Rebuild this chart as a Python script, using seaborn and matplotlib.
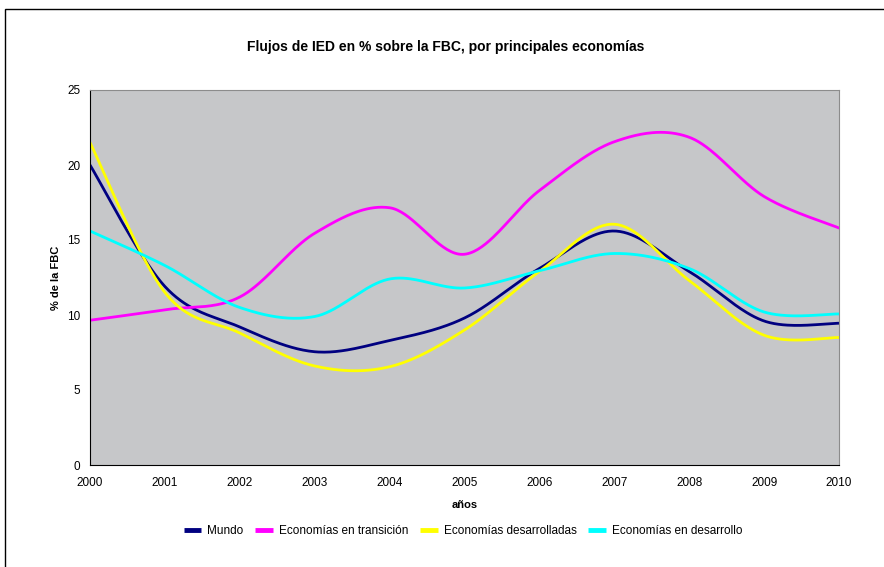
import numpy as np
import pandas as pd
import matplotlib
matplotlib.use("Agg")
import matplotlib.pyplot as plt
import seaborn as sns
from matplotlib.patches import Rectangle

# Datos
anios = [2000, 2001, 2002, 2003, 2004, 2005, 2006, 2007, 2008, 2009, 2010]
mundo = [20.0, 11.9, 9.2, 7.55, 8.3, 9.8, 13.1, 15.6, 12.9, 9.6, 9.45]
transicion = [9.65, 10.35, 11.2, 15.45, 17.15, 14.05, 18.3, 21.55, 21.85, 17.9, 15.8]
desarrolladas = [21.5, 11.5, 8.8, 6.6, 6.55, 9.0, 12.9, 16.05, 12.3, 8.65, 8.5]
desarrollo = [15.6, 13.3, 10.5, 9.9, 12.4, 11.8, 12.95, 14.1, 13.1, 10.2, 10.07]

series = ["Mundo", "Economías en transición", "Economías desarrolladas", "Economías en desarrollo"]
valores = [mundo, transicion, desarrolladas, desarrollo]
colores = ["#000080", "#ff00ff", "#ffff00", "#00ffff"]


def suavizar(x, y, n=40):
    # curva suavizada tipo Excel (Bezier con tangentes Catmull-Rom)
    x = np.asarray(x, float)
    y = np.asarray(y, float)
    xs, ys = [], []
    for i in range(len(x) - 1):
        p0 = np.array([x[i], y[i]])
        p3 = np.array([x[i + 1], y[i + 1]])
        pa = np.array([x[i - 1], y[i - 1]]) if i > 0 else p0
        pb = np.array([x[i + 2], y[i + 2]]) if i + 2 < len(x) else p3
        p1 = p0 + (p3 - pa) / 6
        p2 = p3 - (pb - p0) / 6
        t = np.linspace(0, 1, n)[:, None]
        c = (1 - t) ** 3 * p0 + 3 * (1 - t) ** 2 * t * p1 + 3 * (1 - t) * t ** 2 * p2 + t ** 3 * p3
        xs.extend(c[:, 0])
        ys.extend(c[:, 1])
    return np.array(xs), np.array(ys)


frames = []
for nombre, vals in zip(series, valores):
    sx, sy = suavizar(anios, vals)
    frames.append(pd.DataFrame({"x": sx, "y": sy, "serie": nombre}))
df = pd.concat(frames, ignore_index=True)

sns.set_style("white")
plt.rcParams["font.family"] = ["Liberation Sans", "DejaVu Sans"]
plt.rcParams["text.color"] = "black"
plt.rcParams["axes.labelcolor"] = "black"

fig = plt.figure(figsize=(8.84, 5.67), dpi=100)
ax = fig.add_axes([90 / 884, 1 - 465 / 567, (839 - 90) / 884, (465 - 90) / 567])
ax.set_facecolor("#c6c7c9")

sns.lineplot(data=df, x="x", y="y", hue="serie", palette=colores, sort=False,
             estimator=None, units="serie", linewidth=2.0, ax=ax, legend=False)

ax.set_xlim(2000, 2010)
ax.set_ylim(0, 25)
ax.set_xticks(anios)
ax.set_yticks([0, 5, 10, 15, 20, 25])
ax.tick_params(axis="x", direction="inout", length=7, width=0.8, labelsize=8.5, pad=5, color="black")
ax.tick_params(axis="y", direction="out", length=4, width=0.8, labelsize=8.5, pad=3, color="black")
ax.tick_params(axis="both", labelcolor="black")

for s in ["left", "bottom"]:
    ax.spines[s].set_color("black")
    ax.spines[s].set_linewidth(0.8)
for s in ["top", "right"]:
    ax.spines[s].set_color("#8c8c8c")
    ax.spines[s].set_linewidth(0.8)

ax.set_xlabel("años", fontsize=8, fontweight="bold", labelpad=8)
ax.set_ylabel("% de la FBC", fontsize=8, fontweight="bold", labelpad=4)

fig.text(446 / 884, 1 - 47 / 567, "Flujos de IED en % sobre la FBC, por principales economías",
         ha="center", va="center", fontsize=10, fontweight="bold")

handles = [plt.Line2D([], [], color=c, linewidth=3.5, solid_capstyle="butt") for c in colores]
fig.legend(handles, series, loc="center", bbox_to_anchor=(463 / 884, 1 - 531 / 567), ncol=4,
           frameon=False, fontsize=8.5, handlelength=1.5, handletextpad=0.5, columnspacing=1.0)

fig.patches.append(Rectangle((5 / 884, -0.05), 1.1, 1 - 9 / 567 + 0.05, transform=fig.transFigure,
                             fill=False, edgecolor="black", linewidth=1))

fig.savefig("out.png", dpi=100)
